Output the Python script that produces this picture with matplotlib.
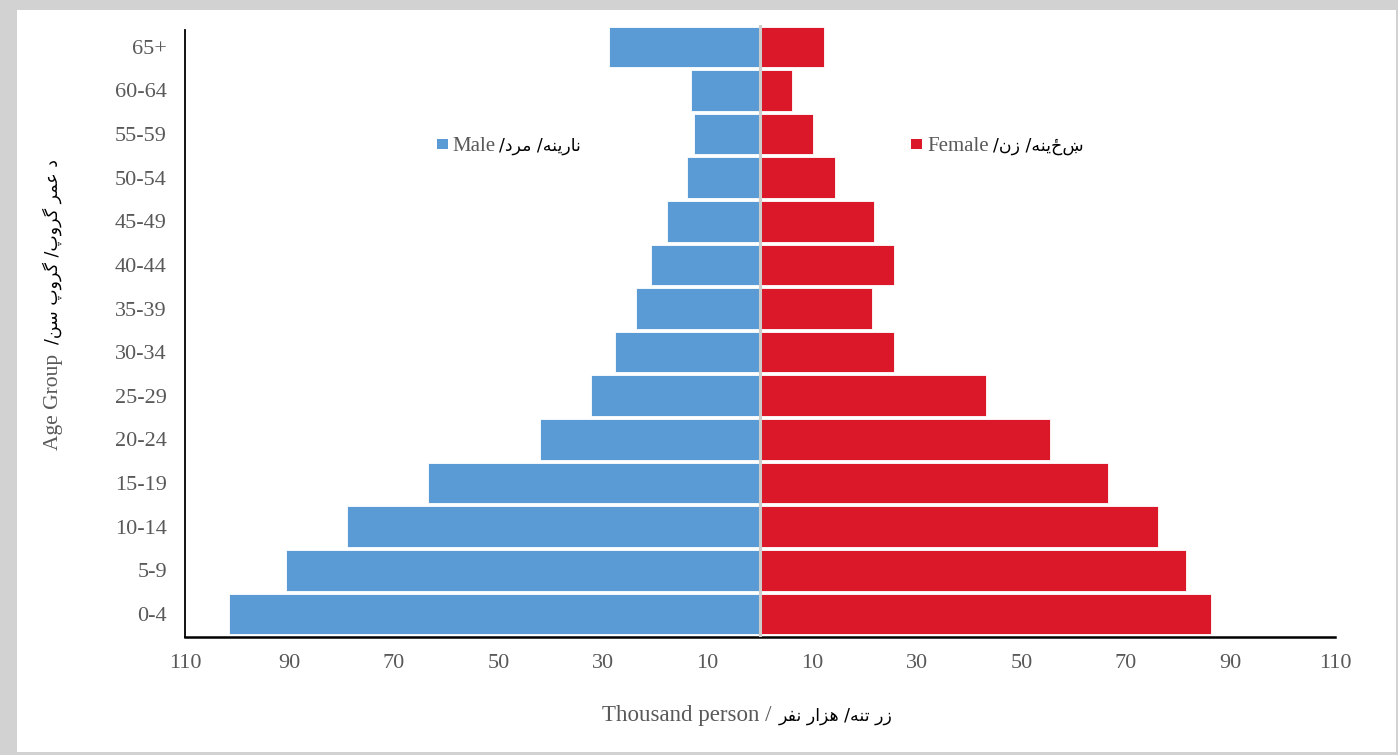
import matplotlib.pyplot as plt
from matplotlib.patches import Rectangle

age_groups = ['0-4', '5-9', '10-14', '15-19', '20-24', '25-29', '30-34',
              '35-39', '40-44', '45-49', '50-54', '55-59', '60-64', '65+']
male = [101.5, 90.6, 79.1, 63.6, 42.0, 32.4, 27.8, 23.8, 20.9, 17.8, 14.0, 12.6, 13.2, 28.9]
female = [86.2, 81.4, 76.1, 66.5, 55.4, 43.3, 25.7, 21.5, 25.7, 21.8, 14.4, 10.2, 6.1, 12.3]
x_ticks = [-110, -90, -70, -50, -30, -10, 10, 30, 50, 70, 90, 110]

male_en, male_fa = 'Male', 'نارینه/ مرد/'
female_en, female_fa = 'Female', 'ښځینه/ زن/'
xlabel_en, xlabel_fa = 'Thousand person /', 'زر تنه/ هزار نفر'
ylabel_en, ylabel_fa = 'Age Group', 'د عمر گروپ/ گروپ سن/'

# matplotlib lays text out left to right with no arabic shaping, so the
# contextual forms are picked here: (isolated, final, initial, medial).
# letters with two forms only join to the right.
FORMS = {
    'ا': ('\uFE8D', '\uFE8E'),
    'د': ('\uFEA9', '\uFEAA'),
    'ر': ('\uFEAD', '\uFEAE'),
    'ز': ('\uFEAF', '\uFEB0'),
    'و': ('\uFEED', '\uFEEE'),
    'ن': ('\uFEE5', '\uFEE6', '\uFEE7', '\uFEE8'),
    'م': ('\uFEE1', '\uFEE2', '\uFEE3', '\uFEE4'),
    'ه': ('\uFEE9', '\uFEEA', '\uFEEB', '\uFEEC'),
    'ت': ('\uFE95', '\uFE96', '\uFE97', '\uFE98'),
    'ع': ('\uFEC9', '\uFECA', '\uFECB', '\uFECC'),
    'س': ('\uFEB1', '\uFEB2', '\uFEB3', '\uFEB4'),
    'ف': ('\uFED1', '\uFED2', '\uFED3', '\uFED4'),
    'ی': ('\uFBFC', '\uFBFD', '\uFBFE', '\uFBFF'),
    'گ': ('\uFB92', '\uFB93', '\uFB94', '\uFB95'),
    'پ': ('\uFB56', '\uFB57', '\uFB58', '\uFB59'),
}


def shape(text):
    out = []
    for i, ch in enumerate(text):
        forms = FORMS.get(ch)
        if forms is None:
            out.append(ch)
            continue
        prev = text[i - 1] if i > 0 else ''
        nxt = text[i + 1] if i + 1 < len(text) else ''
        join_prev = len(FORMS.get(prev, ())) == 4
        join_next = len(forms) == 4 and nxt in FORMS
        if join_prev and join_next:
            out.append(forms[3])
        elif join_prev:
            out.append(forms[1])
        elif join_next:
            out.append(forms[2])
        else:
            out.append(forms[0])
    return ''.join(reversed(out))


W, H = 1398, 755
GREY = '#595959'
SERIF = 'Liberation Serif'
ARAB = 'DejaVu Sans'


def fx(x):
    return x / W


def fy(y):
    return 1 - y / H


fig = plt.figure(figsize=(W / 100, H / 100), dpi=100, facecolor='#d2d2d2')
fig.patches.append(Rectangle((fx(17), fy(752)), fx(1396 - 17), (752 - 10) / H,
                             transform=fig.transFigure, facecolor='white',
                             edgecolor='none', zorder=-1))

ax = fig.add_axes([fx(185), fy(637), fx(1335 - 185), (637 - 25) / H])
ax.set_facecolor('white')

pos = range(len(age_groups))
ax.barh(pos, [-v for v in male], height=0.93, color='#5b9bd5',
        edgecolor='white', linewidth=0.6, zorder=2)
ax.barh(pos, female, height=0.93, color='#da1829',
        edgecolor='white', linewidth=0.6, zorder=2)
ax.axvline(0, color='#cccccc', lw=2.2, zorder=3)

ax.set_xlim(-110, 110)
ax.set_ylim(-0.53, 13.5)
ax.set_xticks(x_ticks)
ax.set_xticklabels([str(abs(t)) for t in x_ticks])
ax.set_yticks(list(pos))
ax.set_yticklabels(age_groups)
ax.tick_params(length=0, labelcolor=GREY, labelsize=16)
ax.tick_params(axis='y', pad=13)
ax.tick_params(axis='x', pad=12)
for lab in ax.get_xticklabels() + ax.get_yticklabels():
    lab.set_fontfamily(SERIF)

for side in ['top', 'right']:
    ax.spines[side].set_visible(False)
ax.spines['left'].set_linewidth(1.3)
ax.spines['left'].set_bounds(-0.53, 13.38)
ax.spines['bottom'].set_linewidth(1.8)

# legend entries
for sq_x, txt_x, color, en, fa in [(437, 452, '#5b9bd5', male_en, male_fa),
                                   (911, 927, '#da1829', female_en, female_fa)]:
    fig.patches.append(Rectangle((fx(sq_x), fy(149)), fx(11), 10 / H,
                                 transform=fig.transFigure, facecolor=color,
                                 edgecolor='none', zorder=3))
    t = fig.text(fx(txt_x), fy(151), en, family=SERIF, size=15, color=GREY,
                 ha='left', va='baseline')
    fig.canvas.draw()
    bb = t.get_window_extent()
    fig.text(fx(bb.x1 + 4), fy(151), shape(fa), family=ARAB, size=12.5,
             color='black', ha='left', va='baseline')

# axis titles
fig.text(fx(771), fy(721), xlabel_en, family=SERIF, size=16.5, color=GREY,
         ha='right', va='baseline')
fig.text(fx(779), fy(721), shape(xlabel_fa), family=ARAB, size=12.5,
         color='black', ha='left', va='baseline')

fig.text(fx(58), fy(450), ylabel_en, family=SERIF, size=15.5, color=GREY,
         ha='left', va='baseline', rotation=90, rotation_mode='anchor')
fig.text(fx(58), fy(344), shape(ylabel_fa), family=ARAB, size=12.5,
         color='black', ha='left', va='baseline', rotation=90,
         rotation_mode='anchor')

fig.savefig('out.png', dpi=100, facecolor=fig.get_facecolor())
